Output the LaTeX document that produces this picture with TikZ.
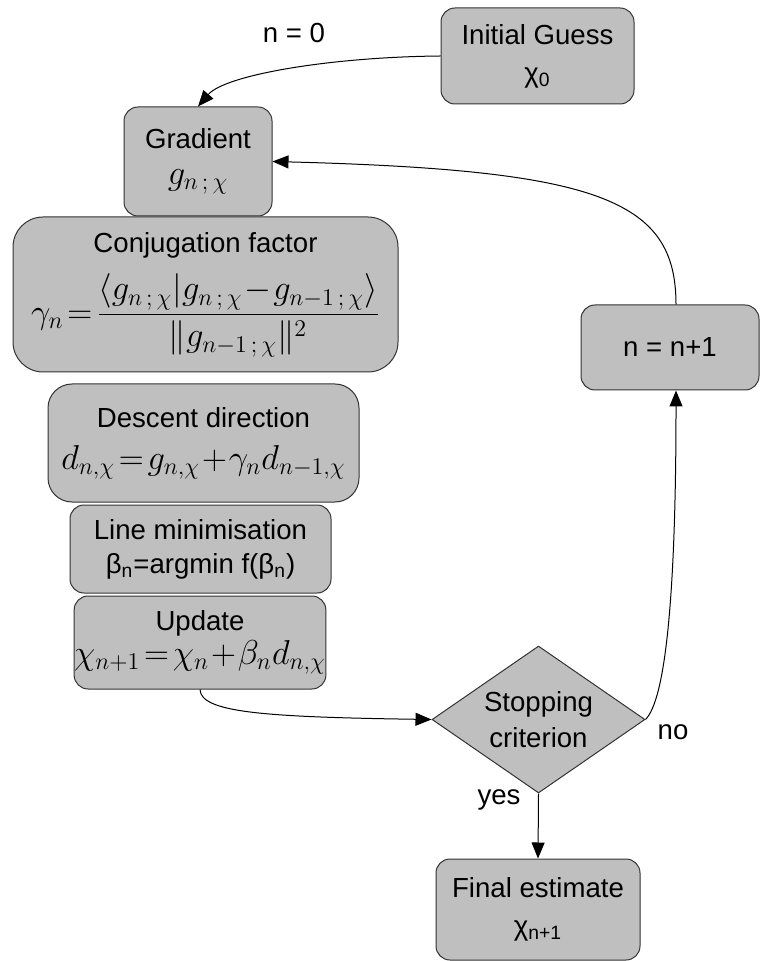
\documentclass[tikz,border=0pt]{standalone}
\usepackage{fontspec}
\setmainfont{Liberation Sans}
\usetikzlibrary{shapes.geometric,arrows.meta}
\tikzset{
  box/.style={draw=black!80, fill=black!25, rounded corners=7pt, align=center, inner sep=0pt, line width=0.5pt},
  decision/.style={diamond, draw=black!80, fill=black!25, inner sep=0pt, line width=0.5pt},
  conn/.style={draw=black, line width=0.5pt, -{Triangle[length=8pt,width=6.5pt]}},
  lbl/.style={inner sep=0pt}
}
\begin{document}
\begin{tikzpicture}[x=0.5pt,y=-0.5pt, font=\fontsize{13.8}{18}\selectfont]
\useasboundingbox (0,0) rectangle (759,961);
\node[box, minimum width=96.5pt, minimum height=48pt] (init) at (537.5,56) {Initial Guess\\[1pt] χ\textsubscript{0}};
\node[box, minimum width=74pt, minimum height=54.5pt] (grad) at (198,161.5) {Gradient\\[0pt] \fontsize{17}{20}\selectfont$g_{n\,;\,\chi}$};
\node[box, rounded corners=15pt, minimum width=192.5pt, minimum height=77.5pt] (conj) at (205.5,294.5) {Conjugation factor\\[7pt] \fontsize{17}{20}\selectfont$\displaystyle \gamma_n\!=\!\frac{\langle g_{n\,;\,\chi}|g_{n\,;\,\chi}\!-\!g_{n-1\,;\,\chi}\rangle}{\|g_{n-1\,;\,\chi}\|^2}$};
\node[box, rounded corners=12pt, minimum width=155.5pt, minimum height=59pt] (desc) at (203.5,443) {Descent direction\\[3pt] \fontsize{17}{20}\selectfont$d_{n,\chi}\!=\!g_{n,\chi}\!+\!\gamma_n d_{n-1,\chi}$};
\node[box, minimum width=130.5pt, minimum height=44pt] (line) at (200.5,549) {Line minimisation\\[-1pt] β\textsubscript{n}=argmin f(β\textsubscript{n})};
\node[box, minimum width=123pt, minimum height=46.5pt] (upd) at (200,642.5) {Update\\[-1pt] \fontsize{17}{20}\selectfont$\chi_{n+1}\!=\!\chi_n\!+\!\beta_n d_{n,\chi}$};
\node[decision, minimum width=106.5pt, minimum height=73.5pt,
  label={[align=center, inner sep=0pt]center:Stopping\\criterion}] (stop) at (538.5,719.5) {};
\node[box, minimum width=89pt, minimum height=42.5pt] (nn) at (670,347.5) {n = n+1};
\node[box, minimum width=102pt, minimum height=50.5pt] (final) at (538,909.5) {Final estimate\\[1pt] χ\textsubscript{n+1}};

\draw[conn] (init.west) .. controls (330,57) and (225,75) .. (grad.north);
\draw[conn] ([xshift=3pt]nn.north) .. controls (676,200) and (600,170) .. (grad.east);
\draw[conn] (upd.south) .. controls (201,712) and (260,717) .. (stop.west);
\draw[conn] (stop.east) .. controls (665,700) and (676,600) .. ([xshift=3pt]nn.south);
\draw[conn] (stop.south) -- (final.north);

\node[lbl] (l0) at (294,33) {n = 0};
\node[lbl] (lno) at (673,732) {no};
\node[lbl] (lyes) at (499,800) {yes};
\end{tikzpicture}
\end{document}
